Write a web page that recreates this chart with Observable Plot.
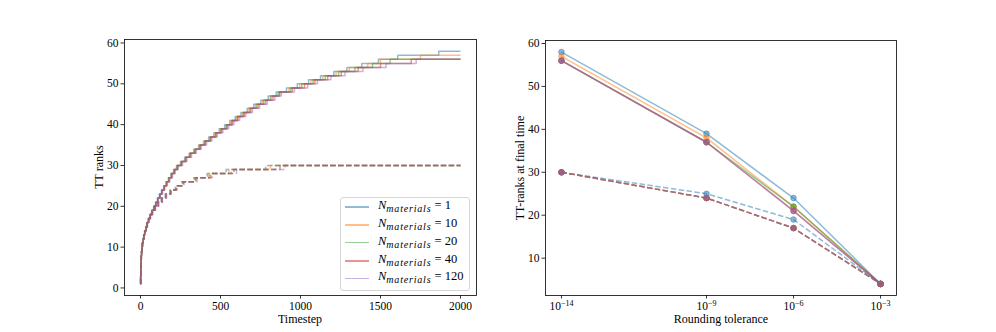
<!DOCTYPE html>
<html><head><meta charset="utf-8">
<script src="https://cdn.jsdelivr.net/npm/d3@7"></script>
<script src="https://cdn.jsdelivr.net/npm/@observablehq/plot@0.6"></script>
<style>
body{margin:0;background:#fff;}
#wrap{position:relative;width:996px;height:332px;font-family:"Liberation Serif",serif;color:#000;overflow:hidden;}
.panel{position:absolute;top:0;}
.panel text{font-family:"Liberation Serif",serif !important;font-size:11.5px !important;}
.panel tspan.sup{font-size:8px !important;}
.lab{position:absolute;white-space:nowrap;font-size:12px;line-height:12px;}
.rot{transform:translate(-50%,-50%) rotate(-90deg);}
.hc{transform:translateX(-50%);}
#legend{position:absolute;left:340px;top:197px;width:128px;height:92px;border:1px solid #d6d6d6;border-radius:3px;background:rgba(255,255,255,0.8);}
.lrow{position:absolute;left:0;height:0;}
.lline{position:absolute;left:4px;width:24px;height:1.5px;top:-0.75px;opacity:0.5;}
.ltext{position:absolute;left:37px;top:-9px;white-space:nowrap;font-size:12.5px;line-height:14px;}
.ltext i{font-style:italic;}
.ltext sub{font-style:italic;font-size:10px;vertical-align:-3px;line-height:0;letter-spacing:0.8px;}
</style></head><body><div id="wrap"></div>
<script>
// ---------- data ----------
const seriesNames = ["1", "10", "20", "40", "120"];
const seriesColors = ["#1f77b4", "#ff7f0e", "#2ca02c", "#d62728", "#9467bd"];
const finalTimestep = 2000;

// Left panel: timestep at which each TT rank (1, 2, 3, ...) is first reached
const stepsSolidN1   = [0,1,1,2,2,3,4,5,7,9, 12,16,20,26,33,41,50,59,70,82, 94,106,118,131,145,159,174,190,207,225, 250,276,304,333,363,394,426,459,492,526, 558,592,628,667,708,752,798, 848,912,980,1050,1125,1208,1290,1383,1487,1608,1864];
const stepsSolidN10  = [0,1,1,2,2,3,4,5,7,9, 12,16,21,26,33,41,50,60,71,83, 95,107,120,133,147,162,177,193,210,228, 253,280,308,338,368,400,432,465,499,534, 566,601,638,677,719,763,810, 858,928,995,1065,1140,1222,1305,1420,1500,1750];
const stepsSolidN20  = [0,1,1,2,2,3,4,5,7,9, 12,16,21,27,34,42,51,61,72,84, 96,108,121,134,148,163,178,194,211,230, 255,282,310,340,371,403,436,469,503,538, 570,605,643,683,725,770,816, 865,938,1008,1078,1155,1238,1340,1450,1560];
const stepsSolidN40  = [0,1,1,2,2,3,4,5,7,9, 12,16,21,27,34,42,51,61,72,85, 97,109,122,135,149,164,179,196,213,232, 258,285,313,343,374,406,439,473,507,542, 575,610,648,690,735,782,828, 870,948,1025,1090,1170,1255,1360,1500,1692];
const stepsSolidN120 = [0,1,1,2,2,3,4,5,7,9, 12,17,22,28,35,43,52,62,73,86, 99,111,124,138,152,167,183,200,217,236, 263,290,319,349,380,413,446,480,515,551, 584,620,658,700,745,792,840, 880,962,1045,1106,1190,1278,1390,1535,1723];

const stepsDashedN1   = [0,1,1,2,2,3,4,5,7,9, 12,16,20,26,33,41,50, 60,72,88,107,129,154,183,217,258,333,416,535,782];
const stepsDashedN10  = [0,1,1,2,2,3,4,5,7,9, 12,16,21,26,33,41,50, 61,73,90,109,132,157,186,221,262,338,424,552,812];
const stepsDashedN20  = [0,1,1,2,2,3,4,5,7,9, 12,16,21,27,34,42,51, 61,74,91,111,134,159,188,223,265,342,432,568,842];
const stepsDashedN40  = [0,1,1,2,2,3,4,5,7,9, 12,16,21,27,34,42,51, 62,75,92,112,135,160,190,225,268,347,440,584,872];
const stepsDashedN120 = [0,1,1,2,2,3,4,5,7,9, 12,17,22,28,35,43,52, 63,76,94,114,137,163,193,229,272,354,448,600,902];

// Right panel: TT-ranks at final time vs rounding tolerance
const tolerances = [1e-14, 1e-9, 1e-6, 1e-3];
const finalSolidN1   = [58, 39, 24, 4];
const finalSolidN10  = [57, 38, 22, 4];
const finalSolidN20  = [56, 37, 22, 4];
const finalSolidN40  = [56, 37, 21, 4];
const finalSolidN120 = [56, 37, 21, 4];
const finalDashedN1   = [30, 25, 19, 4];
const finalDashedN10  = [30, 24, 17, 4];
const finalDashedN20  = [30, 24, 17, 4];
const finalDashedN40  = [30, 24, 17, 4];
const finalDashedN120 = [30, 24, 17, 4];

// ticks
const leftXTicks = [0, 500, 1000, 1500, 2000];
const leftYTicks = [0, 10, 20, 30, 40, 50, 60];
const rightXTicks = [1e-14, 1e-9, 1e-6, 1e-3];
const rightYTicks = [10, 20, 30, 40, 50, 60];

// ---------- tables ----------
const stepsSolid = [stepsSolidN1, stepsSolidN10, stepsSolidN20, stepsSolidN40, stepsSolidN120];
const stepsDashed = [stepsDashedN1, stepsDashedN10, stepsDashedN20, stepsDashedN40, stepsDashedN120];
const finalSolid = [finalSolidN1, finalSolidN10, finalSolidN20, finalSolidN40, finalSolidN120];
const finalDashed = [finalDashedN1, finalDashedN10, finalDashedN20, finalDashedN40, finalDashedN120];

function stepRows(steps, s) {
  const rows = steps.map((t, i) => ({t, r: i + 1, s}));
  rows.push({t: finalTimestep, r: steps.length, s});
  return rows;
}
const solidRows = seriesNames.flatMap((s, k) => stepRows(stepsSolid[k], s));
const dashedRows = seriesNames.flatMap((s, k) => stepRows(stepsDashed[k], s));
const rSolid = seriesNames.flatMap((s, k) => tolerances.map((tol, j) => ({tol, v: finalSolid[k][j], s})));
const rDashed = seriesNames.flatMap((s, k) => tolerances.map((tol, j) => ({tol, v: finalDashed[k][j], s})));

const FONT = "'Liberation Serif', serif";
const common = {
  height: 332, marginTop: 39, marginBottom: 37,
  style: `font-family: ${FONT}; font-size: 11.5px; color: #000; background: transparent; overflow: visible;`,
  color: {domain: seriesNames, range: seriesColors}
};
const axOpts = {tickSize: 3.5, tickPadding: 2.5, label: null, strokeWidth: 0.8};

const left = Plot.plot({
  ...common, width: 500, marginLeft: 124, marginRight: 24,
  x: {domain: [-100, 2100]},
  y: {domain: [-1.85, 60.85]},
  marks: [
    Plot.line(solidRows, {x: "t", y: "r", z: "s", stroke: "s", curve: "step-after", strokeWidth: 1.5, strokeOpacity: 0.5, strokeLinecap: "butt"}),
    Plot.line(dashedRows, {x: "t", y: "r", z: "s", stroke: "s", curve: "step-after", strokeWidth: 1.5, strokeOpacity: 0.5, strokeDasharray: "5.5,2.4", strokeLinecap: "butt"}),
    Plot.frame({stroke: "#000", strokeWidth: 0.8}),
    Plot.axisX({...axOpts, ticks: leftXTicks, tickFormat: d => String(d)}),
    Plot.axisY({...axOpts, ticks: leftYTicks, tickFormat: d => String(d)})
  ]
});

const right = Plot.plot({
  ...common, width: 496, marginLeft: 45, marginRight: 100, marginTop: 40,
  x: {type: "log", domain: [Math.pow(10, -14.55), Math.pow(10, -2.45)]},
  y: {domain: [1.3, 60.7]},
  marks: [
    Plot.line(rSolid, {x: "tol", y: "v", z: "s", stroke: "s", strokeWidth: 1.5, strokeOpacity: 0.5}),
    Plot.line(rDashed, {x: "tol", y: "v", z: "s", stroke: "s", strokeWidth: 1.5, strokeOpacity: 0.5, strokeDasharray: "5.5,2.4", strokeLinecap: "butt"}),
    Plot.dot(rSolid, {x: "tol", y: "v", fill: "s", stroke: "s", r: 2.8, fillOpacity: 0.5, strokeOpacity: 0.5, strokeWidth: 1}),
    Plot.dot(rDashed, {x: "tol", y: "v", fill: "s", stroke: "s", r: 2.8, fillOpacity: 0.5, strokeOpacity: 0.5, strokeWidth: 1}),
    Plot.frame({stroke: "#000", strokeWidth: 0.8}),
    Plot.axisX({...axOpts, ticks: rightXTicks, tickFormat: d => String(Math.round(Math.log10(d)))}),
    Plot.axisY({...axOpts, ticks: rightYTicks, tickFormat: d => String(d)})
  ]
});

// superscript exponents on log ticks
const NS = "http://www.w3.org/2000/svg";
right.querySelectorAll('g[aria-label="x-axis tick label"] text').forEach(t => {
  const e = t.textContent.replace("-", "\u2212");
  t.textContent = "";
  const b = document.createElementNS(NS, "tspan"); b.textContent = "10";
  const sp = document.createElementNS(NS, "tspan"); sp.textContent = e;
  sp.setAttribute("class", "sup");
  sp.setAttribute("dy", "-0.45em");
  t.appendChild(b); t.appendChild(sp);
});

const wrap = document.getElementById("wrap");
[left, right].forEach(svg => {
  svg.classList.add("panel");
  svg.setAttribute("font-family", FONT);
  svg.setAttribute("font-size", "11.5");
});
left.style.left = "0px";
right.style.left = "500px";
wrap.appendChild(left); wrap.appendChild(right);

function label(text, css, cls) {
  const d = document.createElement("div");
  d.className = "lab " + cls; d.textContent = text;
  Object.assign(d.style, css);
  wrap.appendChild(d);
}
label("TT ranks", {left: "99px", top: "167px"}, "rot");
label("Timestep", {left: "300px", top: "312.5px"}, "hc");
label("TT-ranks at final time", {left: "520px", top: "167.5px"}, "rot");
label("Rounding tolerance", {left: "721px", top: "313px"}, "hc");

// legend
const lg = document.createElement("div"); lg.id = "legend";
const rowY = [9, 27, 44.7, 63, 80.3];
seriesNames.forEach((s, k) => {
  const row = document.createElement("div"); row.className = "lrow"; row.style.top = rowY[k] + "px";
  const ln = document.createElement("div"); ln.className = "lline"; ln.style.background = seriesColors[k];
  const tx = document.createElement("div"); tx.className = "ltext";
  tx.innerHTML = '<i>N</i><sub>materials</sub>&nbsp;=&nbsp;' + s;
  row.appendChild(ln); row.appendChild(tx); lg.appendChild(row);
});
wrap.appendChild(lg);
</script></body></html>
